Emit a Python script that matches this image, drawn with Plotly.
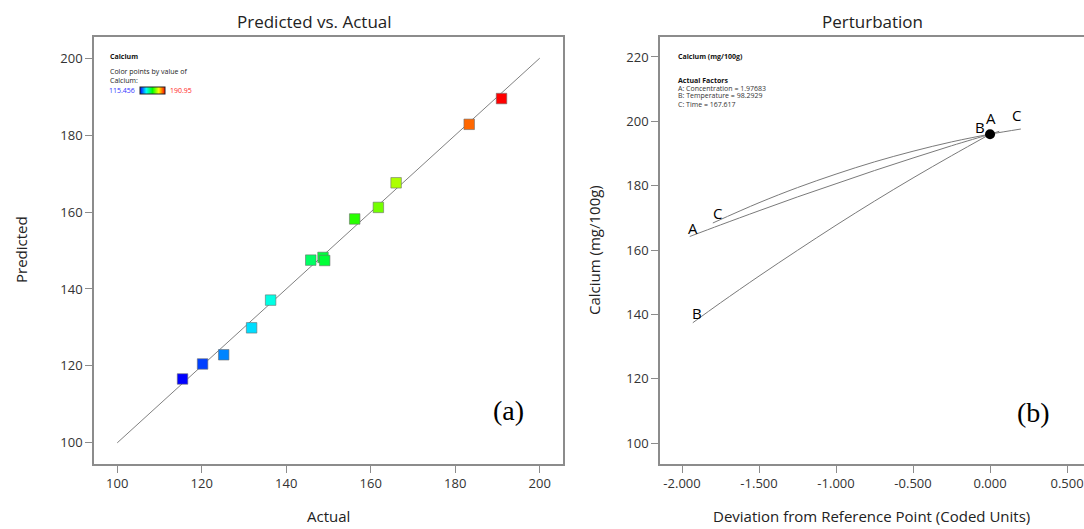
import plotly.graph_objects as go

W, H = 1084, 529
def px(x): return x / W
def py(y): return 1 - y / H

# ---- data: Predicted vs Actual ----
actual = [115.456, 120.2, 125.2, 131.8, 136.3, 145.8, 148.7, 149.1, 156.2, 161.8, 166.0, 183.3, 190.95]
predicted = [116.6, 120.5, 122.9, 129.9, 137.1, 147.5, 148.2, 147.4, 158.2, 161.2, 167.6, 182.8, 189.5]
diag = [100, 200]
left_ticks = [100, 120, 140, 160, 180, 200]

# ---- data: Perturbation ----
a_x = [-1.95, -1.75, -1.5, -1.25, -1.0, -0.75, -0.5, -0.25, 0.0, 0.06]
a_y = [164.2, 167.8, 172.2, 176.5, 180.6, 184.7, 188.6, 192.4, 196.0, 196.9]
b_x = [-1.93, -1.75, -1.5, -1.25, -1.0, -0.75, -0.5, -0.25, 0.0]
b_y = [137.4, 143.6, 151.9, 159.9, 167.7, 175.2, 182.4, 189.3, 196.0]
c_x = [-1.8, -1.5, -1.25, -1.0, -0.75, -0.5, -0.25, 0.0, 0.2]
c_y = [168.4, 174.7, 179.4, 183.6, 187.4, 190.7, 193.6, 196.0, 197.6]
ref_x, ref_y = [0.0], [196.0]
dev_ticks = [-2.0, -1.5, -1.0, -0.5, 0.0, 0.5]
dev_ticktext = ["-2.000", "-1.500", "-1.000", "-0.500", "0.000", "0.500"]
cal_ticks = [100, 120, 140, 160, 180, 200, 220]

cmin, cmax = 115.456, 190.95
cscale = [[0, "rgb(0,0,255)"], [0.25, "rgb(0,255,255)"], [0.5, "rgb(0,255,0)"],
          [0.75, "rgb(255,255,0)"], [1, "rgb(255,0,0)"]]

FONT = "Open Sans"
TICKC = "#333333"
AXC = "#8c8c8c"

fig = go.Figure()
fig.add_trace(go.Scatter(x=diag, y=diag, mode="lines", line=dict(color="#808080", width=1),
                         xaxis="x", yaxis="y", showlegend=False, hoverinfo="skip"))
fig.add_trace(go.Scatter(x=actual, y=predicted, mode="markers", xaxis="x", yaxis="y", showlegend=False,
                         marker=dict(symbol="square", size=10.5, color=actual, cmin=cmin, cmax=cmax,
                                     colorscale=cscale, line=dict(color="rgba(110,110,110,0.6)", width=1),
                                     showscale=True,
                                     colorbar=dict(orientation="h", x=px(152.5), xanchor="center",
                                                   y=py(91), yanchor="middle", len=25, lenmode="pixels",
                                                   thickness=7, outlinewidth=1, outlinecolor="#222",
                                                   showticklabels=False, ticks="", xpad=0, ypad=0))))

for xs, ys in [(a_x, a_y), (b_x, b_y), (c_x, c_y)]:
    fig.add_trace(go.Scatter(x=xs, y=ys, mode="lines", line=dict(color="#7a7a7a", width=1, shape="spline"),
                             xaxis="x2", yaxis="y2", showlegend=False))
fig.add_trace(go.Scatter(x=ref_x, y=ref_y, mode="markers", marker=dict(color="black", size=10),
                         xaxis="x2", yaxis="y2", showlegend=False))

common = dict(showline=True, linecolor=AXC, linewidth=1.5, ticks="outside", ticklen=7,
              tickcolor=AXC, tickwidth=1, showgrid=False, zeroline=False,
              tickfont=dict(family=FONT, size=13, color=TICKC), automargin=False)

fig.update_layout(
    width=W, height=H, margin=dict(l=0, r=0, t=0, b=0),
    paper_bgcolor="white", plot_bgcolor="white",
    xaxis=dict(domain=[px(94), px(563)], range=[94.5, 205.5], tickvals=left_ticks,
               mirror=True, anchor="y", **common),
    yaxis=dict(domain=[py(464), py(37)], range=[94.5, 205.5], tickvals=left_ticks,
               mirror=True, anchor="x", **common),
    xaxis2=dict(domain=[px(660), 1.0], range=[-2.143, 0.61], tickvals=dev_ticks, ticktext=dev_ticktext,
                mirror=True, anchor="y2", **common),
    yaxis2=dict(domain=[py(464), py(37)], range=[93.5, 226.2], tickvals=cal_ticks,
                mirror=False, anchor="x2", **common),
)

ann = []
def A(x, y, text, size, color="black", family=FONT, xanchor="center", yanchor="middle", textangle=0, bold=False):
    t = f"<b>{text}</b>" if bold else text
    ann.append(dict(x=px(x), y=py(y), xref="paper", yref="paper", text=t, showarrow=False,
                    font=dict(family=family, size=size, color=color), xanchor=xanchor, yanchor=yanchor,
                    textangle=textangle))

A(314, 22, "Predicted vs. Actual", 17, "#222")
A(872, 22, "Perturbation", 17, "#222")
A(328, 516, "Actual", 15, "#222")
A(21, 250, "Predicted", 15, "#222", textangle=-90)
A(871, 516, "Deviation from Reference Point (Coded Units)", 15, "#222")
A(594, 250, "Calcium (mg/100g)", 15, "#222", textangle=-90)
A(508, 410, "(a)", 28, "black", family="Liberation Serif")
A(1033, 412, "(b)", 28, "black", family="Liberation Serif")

# mini legend (left)
A(108, 56, "Calcium", 7, "#111", xanchor="left", bold=True)
A(108, 72, "Color points by value of", 7, "#222", xanchor="left")
A(108, 80, "Calcium:", 7, "#222", xanchor="left")
A(137, 91, "115.456", 7, "#3333ff", xanchor="right")
A(168, 91, "190.95", 7, "#ff2222", xanchor="left")

# info box (right)
A(676, 56, "Calcium (mg/100g)", 7, "#111", xanchor="left", bold=True)
A(676, 80, "Actual Factors", 7, "#111", xanchor="left", bold=True)
A(676, 88, "A: Concentration = 1.97683", 7, "#333", xanchor="left")
A(676, 96, "B: Temperature = 98.2929", 7, "#333", xanchor="left")
A(676, 104, "C: Time = 167.617", 7, "#333", xanchor="left")

# curve labels anchored to curve ends
def L(xv, yv, text, dx, dy):
    ann.append(dict(x=xv, y=yv, xref="x2", yref="y2", text=text, showarrow=False,
                    font=dict(family=FONT, size=15, color="black"), xshift=dx, yshift=dy))
L(a_x[0], a_y[0], "A", 3, 9)
L(b_x[0], b_y[0], "B", 4, 10)
L(c_x[0], c_y[0], "C", 5, 10)
L(a_x[-2], a_y[-2], "A", 1, 16)
L(b_x[-1], b_y[-1], "B", -10, 7)
L(c_x[-1], c_y[-1], "C", -4, 14)

fig.update_layout(annotations=ann)
fig.write_html("out.html")
